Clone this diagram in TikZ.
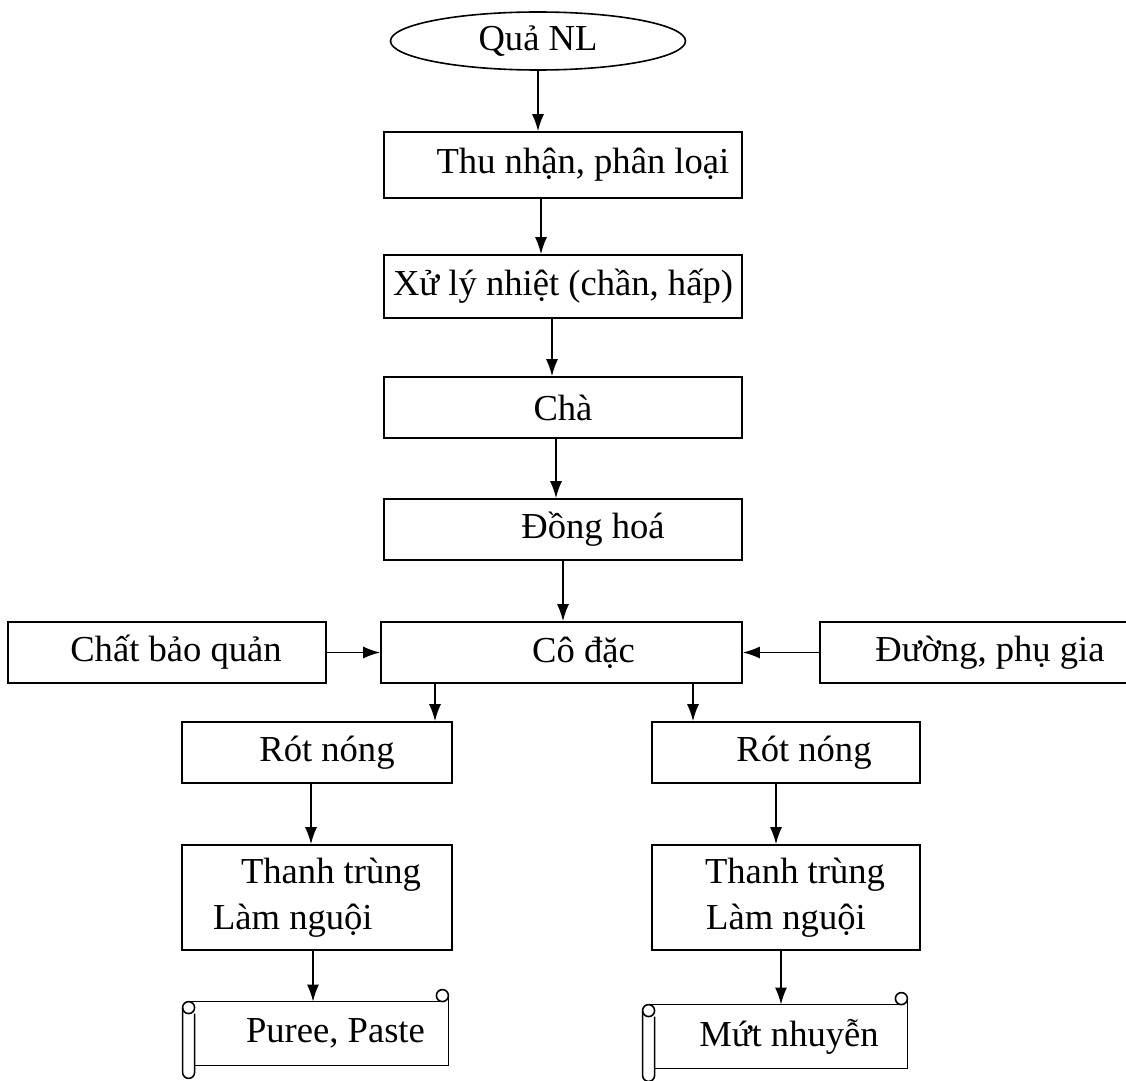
\documentclass[tikz,border=0pt]{standalone}
\usepackage{fontspec}
\setmainfont{Liberation Serif}
\usetikzlibrary{shapes.geometric,arrows.meta}

\begin{document}
\begin{tikzpicture}[x=0.5pt,y=-0.5pt,
  every node/.style={font=\fontsize{18.3}{23}\selectfont},
  box/.style={thick, black, rectangle, draw, inner sep=0pt},
  arr/.style={thick, -{Latex[length=8.5pt,width=6pt]}}]
\useasboundingbox (0,0) rectangle (1126,1081);
\node[thick, ellipse, draw, minimum width=147.5pt, minimum height=29pt, inner sep=0pt] (q) at (538,41) {Quả NL};
\node[box, minimum width=179pt, minimum height=33pt] (t) at (563,165) {\hspace*{20pt}Thu nhận, phân loại};
\node[box, minimum width=179pt, minimum height=31.5pt] (x) at (563,286.5) {Xử lý nhiệt (chần, hấp)};
\node[box, minimum width=179pt, minimum height=30.5pt] (c) at (563,407.5) {Chà};
\node[box, minimum width=179pt, minimum height=30.5pt] (d) at (563,529.5) {\hspace*{30pt}Đồng hoá};
\node[box, minimum width=180.5pt, minimum height=30.5pt] (k) at (561.5,652.5) {\hspace*{22pt}Cô đặc};
\node[box, minimum width=159pt, minimum height=30.5pt] (p) at (167,652.5) {\hspace*{9pt}Chất bảo quản};
\node[box, minimum width=156pt, minimum height=30.5pt] (g) at (976,652.5) {\hspace*{14pt}Đường, phụ gia};
\node[box, minimum width=135pt, minimum height=30.5pt] (r1) at (317,752.5) {\hspace*{10pt}Rót nóng};
\node[box, minimum width=134pt, minimum height=30.5pt] (r2) at (786,752.5) {\hspace*{18pt}Rót nóng};
\node[box, minimum width=135pt, minimum height=52.5pt, align=left] (h1) at (317,897.5) {\hspace*{14pt}Thanh trùng\\Làm nguội};
\node[box, minimum width=134pt, minimum height=52.5pt, align=center] (h2) at (786,897.5) {\hspace*{9pt}Thanh trùng\\Làm nguội};
\node[rectangle, inner sep=0pt, minimum width=126.5pt, minimum height=31.5pt] (s1) at (321.5,1033.5) {\hspace*{14pt}Puree, Paste};
\node[rectangle, inner sep=0pt, minimum width=126pt, minimum height=31.5pt] (s2) at (781,1036.5) {\hspace*{8pt}Mứt nhuyễn};

% scroll outlines
\foreach \s in {s1,s2}{
  \draw[thick] (\s.south west) -- (\s.south east) -- ([yshift=3pt]\s.north east);
  \draw[thick] ([xshift=-3pt,yshift=3pt]\s.north east) circle (3pt);
  \draw[thick] ([xshift=-3pt]\s.north west) -- ([xshift=-3pt]\s.north east);
  \draw[thick] ([xshift=-3pt,yshift=-3pt]\s.north west) circle (3pt);
  \draw[thick] ([xshift=-6pt,yshift=-3pt]\s.north west) -- ([xshift=-6pt,yshift=-3.5pt]\s.south west)
    arc[start angle=180, end angle=360, radius=3pt] -- ([yshift=-6pt]\s.north west);
}

\draw[arr] (q.south) -- (q.south |- t.north);
\draw[arr] ([xshift=-11pt]t.south) -- ([xshift=-11pt]t.south |- x.north);
\draw[arr] ([xshift=-5.5pt]x.south) -- ([xshift=-5.5pt]x.south |- c.north);
\draw[arr] ([xshift=-3.5pt]c.south) -- ([xshift=-3.5pt]c.south |- d.north);
\draw[arr] (d.south) -- (d.south |- k.north);
\draw[arr] (p) -- (k);
\draw[arr] (g) -- (k);
\draw[arr] ([xshift=-63.25pt]k.south) -- ([xshift=-63.25pt]k.south |- r1.north);
\draw[arr] ([xshift=65.75pt]k.south) -- ([xshift=65.75pt]k.south |- r2.north);
\draw[arr] ([xshift=-3pt]r1.south) -- ([xshift=-3pt]r1.south |- h1.north);
\draw[arr] ([xshift=-5pt]r2.south) -- ([xshift=-5pt]r2.south |- h2.north);
\draw[arr] ([xshift=-2pt]h1.south) -- ([xshift=-2pt]h1.south |- s1.north);
\draw[arr] ([xshift=-2.5pt]h2.south) -- ([xshift=-2.5pt]h2.south |- s2.north);
\end{tikzpicture}
\end{document}
